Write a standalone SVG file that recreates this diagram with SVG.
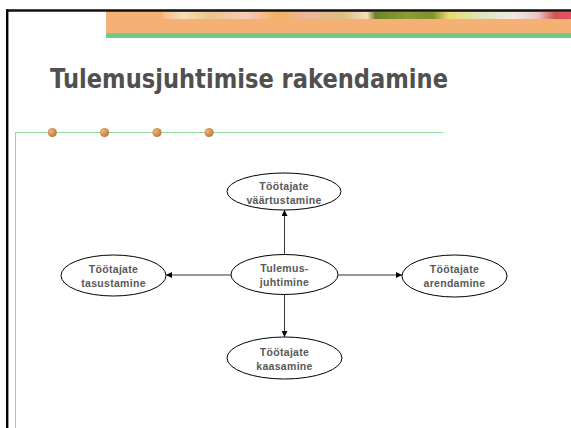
<svg xmlns="http://www.w3.org/2000/svg" width="571" height="428" viewBox="0 0 571 428">
<defs>
<style>
.node ellipse{fill:#fff;stroke:#000;stroke-width:1}
.node text{font-family:"Liberation Sans",Arial,sans-serif;font-weight:bold;font-size:10.5px;fill:#595959;text-anchor:middle;letter-spacing:0.3px}
.conn line{stroke:#000;stroke-width:0.8;marker-end:url(#ah)}
.dot{fill:url(#dg)}
</style>
<marker id="ah" viewBox="0 0 8 8" refX="8" refY="4" markerWidth="6" markerHeight="6" orient="auto" markerUnits="userSpaceOnUse">
<path d="M0,0 L8,4 L0,8 Z" fill="#000"/>
</marker>
<radialGradient id="dg" cx="0.35" cy="0.35" r="0.7">
<stop offset="0" stop-color="#f0b878"/>
<stop offset="1" stop-color="#b8743a"/>
</radialGradient>
<linearGradient id="flow" x1="163" y1="0" x2="571" y2="0" gradientUnits="userSpaceOnUse">
<stop offset="0" stop-color="#f6c08a"/>
<stop offset="0.05" stop-color="#f7e3c0"/>
<stop offset="0.12" stop-color="#e8c890"/>
<stop offset="0.2" stop-color="#f5d0c8"/>
<stop offset="0.28" stop-color="#f3b060"/>
<stop offset="0.36" stop-color="#e8b8a8"/>
<stop offset="0.44" stop-color="#d8c080"/>
<stop offset="0.5" stop-color="#f4e8c8"/>
<stop offset="0.52" stop-color="#5a7a20"/>
<stop offset="0.6" stop-color="#7a9a28"/>
<stop offset="0.66" stop-color="#6a8a20"/>
<stop offset="0.7" stop-color="#e8e070"/>
<stop offset="0.78" stop-color="#d8f0c8"/>
<stop offset="0.86" stop-color="#f0f4f8"/>
<stop offset="0.92" stop-color="#e8c8d0"/>
<stop offset="0.96" stop-color="#c84848"/>
<stop offset="1" stop-color="#e04060"/>
</linearGradient>
</defs>
<rect x="0" y="0" width="571" height="428" fill="#fff"/>
<!-- top banner -->
<rect x="106" y="11" width="465" height="22" fill="#f4b173"/>
<rect x="163" y="12" width="408" height="7" fill="url(#flow)" opacity="0.85"/>
<rect x="106" y="33" width="465" height="5" fill="#6fcb85"/>
<!-- black frame -->
<line x1="6" y1="10.5" x2="571" y2="10.5" stroke="#111" stroke-width="2.5"/>
<line x1="7.2" y1="9.5" x2="7.2" y2="428" stroke="#000" stroke-width="2.4"/>
<!-- title -->
<text x="50" y="88" font-family="DejaVu Sans, Verdana, sans-serif" font-weight="bold" font-size="27" fill="#505050" textLength="398" lengthAdjust="spacingAndGlyphs">Tulemusjuhtimise rakendamine</text>
<!-- green rule -->
<line x1="15" y1="132.5" x2="443" y2="132.5" stroke="#8fd89f" stroke-width="1"/>
<line x1="15.5" y1="132" x2="15.5" y2="428" stroke="#8fd89f" stroke-width="1"/>
<circle class="dot" cx="52.3" cy="132.5" r="4.6"/>
<circle class="dot" cx="104.5" cy="132.5" r="4.6"/>
<circle class="dot" cx="157" cy="132.5" r="4.6"/>
<circle class="dot" cx="209" cy="132.5" r="4.6"/>
<!-- connectors -->
<g id="connectors" class="conn">
<line x1="284.5" y1="254.5" x2="284.5" y2="210"/>
<line x1="231" y1="275" x2="166" y2="275"/>
<line x1="338" y1="275" x2="402" y2="275"/>
<line x1="284.5" y1="294.5" x2="284.5" y2="337"/>
</g>
<!-- nodes -->
<g id="n-center" class="node">
<ellipse cx="284.5" cy="274.5" rx="53.5" ry="20"/>
<text x="284.5" y="272">Tulemus-</text>
<text x="284.5" y="286">juhtimine</text>
</g>
<g id="n-top" class="node">
<ellipse cx="284" cy="191.5" rx="57" ry="18.5"/>
<text x="284" y="190">Töötajate</text>
<text x="284" y="204">väärtustamine</text>
</g>
<g id="n-left" class="node">
<ellipse cx="113.5" cy="275.5" rx="52.5" ry="20.5"/>
<text x="113.5" y="273">Töötajate</text>
<text x="113.5" y="287">tasustamine</text>
</g>
<g id="n-right" class="node">
<ellipse cx="454.5" cy="276" rx="52.5" ry="21"/>
<text x="454.5" y="273">Töötajate</text>
<text x="454.5" y="287">arendamine</text>
</g>
<g id="n-bottom" class="node">
<ellipse cx="284.5" cy="358" rx="57.5" ry="21"/>
<text x="284.5" y="356">Töötajate</text>
<text x="284.5" y="370">kaasamine</text>
</g>
</svg>
